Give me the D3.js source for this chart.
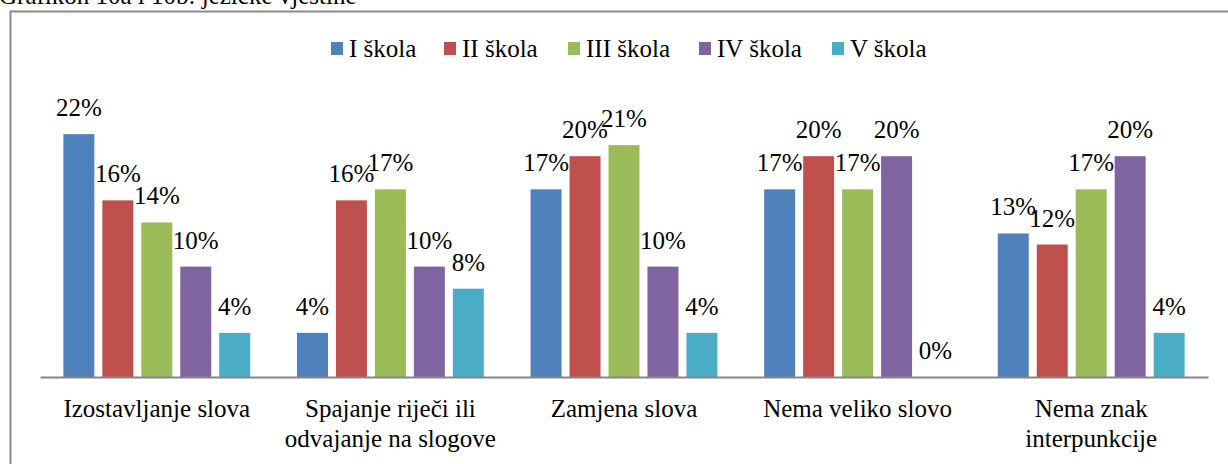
<!DOCTYPE html>
<html>
<head>
<meta charset="utf-8">
<script src="https://cdn.jsdelivr.net/npm/d3@7"></script>
<style>
  html, body { margin: 0; padding: 0; background: #fff; }
  svg { display: block; }
</style>
</head>
<body>
<svg id="chart" width="1228" height="464" font-family="'Liberation Serif', 'DejaVu Serif', 'Times New Roman', serif"></svg>
<script>
// Categories (line breaks mark where the axis label wraps)
const categories = [
  "Izostavljanje slova",
  "Spajanje riječi ili\nodvajanje na slogove",
  "Zamjena slova",
  "Nema veliko slovo",
  "Nema znak\ninterpunkcije"
];
const seriesNames = ["I škola", "II škola", "III škola", "IV škola", "V škola"];
// Percentage values per school, in category order
const school1 = [22, 4, 17, 17, 13];
const school2 = [16, 16, 20, 20, 12];
const school3 = [14, 17, 21, 17, 17];
const school4 = [10, 10, 10, 20, 20];
const school5 = [4, 8, 4, 0, 4];
const colors = ["#4F81BD", "#C0504D", "#9BBB59", "#8064A2", "#4BACC6"];
const titleText = "Grafikon 10a i 10b: jezičke vještine";

const series = [school1, school2, school3, school4, school5];
const FONT = "'Liberation Serif', 'DejaVu Serif', 'Times New Roman', serif";
const FS = 25;

const svg = d3.select("#chart");
const W = 1228, H = 464;
const plot = { left: 40, right: 1208, top: 101, bottom: 377 };

// Caption above the frame (runs off the top edge)
svg.append("text")
  .attr("x", -1).attr("y", 4)
  .attr("font-family", FONT)
  .attr("font-size", FS)
  .text(titleText);

// Outer frame
svg.append("path")
  .attr("d", `M10.5,${H + 2} V11.5 H${W + 2}`)
  .attr("fill", "none")
  .attr("stroke", "#8a8a8a")
  .attr("stroke-width", 2);

const x0 = d3.scaleBand()
  .domain(categories)
  .range([plot.left, plot.right])
  .paddingInner(0)
  .paddingOuter(0);

const x1 = d3.scaleBand()
  .domain(seriesNames)
  .range([0, x0.bandwidth()])
  .paddingInner(0.205)
  .paddingOuter(0.6);

const y = d3.scaleLinear()
  .domain([0, 25])
  .range([plot.bottom, plot.top]);

const rows = [];
categories.forEach((c, ci) => {
  seriesNames.forEach((s, si) => {
    rows.push({ cat: c, name: s, value: series[si][ci], color: colors[si] });
  });
});

svg.append("g").selectAll("rect")
  .data(rows)
  .join("rect")
  .attr("x", d => x0(d.cat) + x1(d.name))
  .attr("y", d => y(d.value))
  .attr("width", x1.bandwidth())
  .attr("height", d => y(0) - y(d.value))
  .attr("fill", d => d.color);

svg.append("g").selectAll("text")
  .data(rows)
  .join("text")
  .attr("x", d => x0(d.cat) + x1(d.name) + x1.bandwidth() / 2)
  .attr("y", d => y(d.value) - 18)
  .attr("text-anchor", "middle")
  .attr("font-family", FONT)
  .attr("font-size", FS)
  .text(d => d.value + "%");

// Category axis
const xAxis = svg.append("g")
  .attr("transform", `translate(0,${plot.bottom})`)
  .call(d3.axisBottom(x0).tickSize(0).tickFormat(""));
xAxis.select(".domain").attr("stroke", "#868686").attr("stroke-width", 2);

const catLabels = svg.append("g").selectAll("text")
  .data(categories)
  .join("text")
  .attr("x", d => x0(d) + x0.bandwidth() / 2)
  .attr("y", 417)
  .attr("text-anchor", "middle")
  .attr("font-family", FONT)
  .attr("font-size", FS);
catLabels.each(function(d) {
  const t = d3.select(this);
  d.split("\n").forEach((line, i) => {
    t.append("tspan")
      .attr("x", x0(d) + x0.bandwidth() / 2)
      .attr("dy", i === 0 ? 0 : 30)
      .text(line);
  });
});

// Legend
const legendX = [331, 444, 568, 699, 832];
const legend = svg.append("g").selectAll("g")
  .data(seriesNames)
  .join("g")
  .attr("transform", (d, i) => `translate(${legendX[i]},0)`);
legend.append("rect")
  .attr("x", 0).attr("y", 42)
  .attr("width", 12).attr("height", 13)
  .attr("fill", (d, i) => colors[i]);
legend.append("text")
  .attr("x", 18).attr("y", 57)
  .attr("font-family", FONT)
  .attr("font-size", FS)
  .text(d => d);
</script>
</body>
</html>
